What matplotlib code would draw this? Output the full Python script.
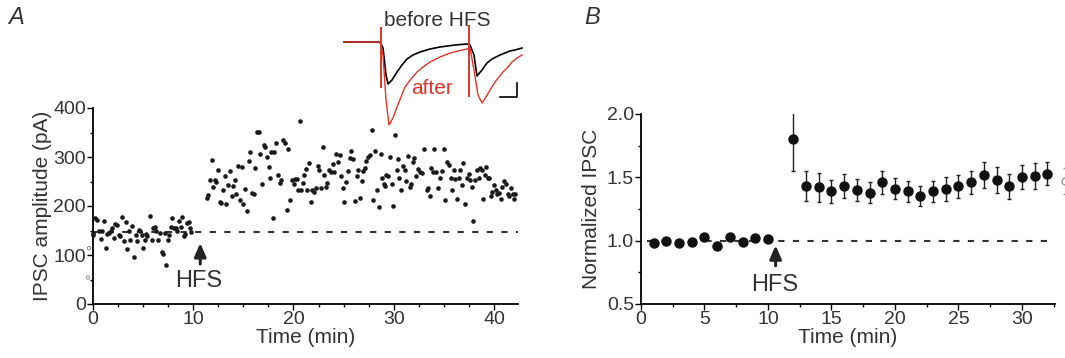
import matplotlib
matplotlib.use('Agg')
import matplotlib.pyplot as plt
from matplotlib.ticker import MultipleLocator

plt.rcParams['font.family'] = ['Liberation Sans', 'DejaVu Sans']

# --- panel A: single cell IPSC amplitude (pA) ---
pre_t = [0, 0.02, 0.2, 0.4, 0.6, 0.75, 0.9, 1.1, 1.25, 1.4, 1.55, 1.75, 1.9, 2.1, 2.2, 2.4,
         2.55, 2.7, 2.9, 3.1, 3.25, 3.4, 3.6, 3.7, 3.85, 4.1, 4.25, 4.4, 4.55, 4.7, 4.85, 5.0,
         5.15, 5.3, 5.4, 5.7, 5.85, 6.0, 6.15, 6.3, 6.5, 6.65, 6.85, 7.0, 7.15, 7.3, 7.45, 7.6,
         7.75, 7.9, 8.1, 8.25, 8.4, 8.6, 8.75, 8.9, 9.1, 9.2, 9.4, 9.55, 9.65, 9.8]
pre_amp = [145, 140, 175, 172, 150, 132, 150, 170, 115, 142, 145, 150, 155, 135, 163, 162,
           140, 138, 178, 128, 168, 112, 150, 130, 160, 95, 140, 128, 152, 148, 140, 115,
           130, 142, 138, 180, 130, 155, 157, 150, 130, 145, 107, 103, 145, 80, 130, 140,
           158, 175, 155, 155, 148, 170, 157, 178, 138, 142, 165, 167, 155, 146]

post_t = [11.34, 11.47, 11.64, 11.85, 12.0, 12.19, 12.3, 12.5, 12.63, 12.8, 13.0, 13.17, 13.3,
          13.45, 13.65, 13.82, 14.0, 14.13, 14.3, 14.47, 14.64, 14.84, 14.98, 15.15, 15.32,
          15.52, 15.69, 15.9, 16.07, 16.17, 16.34, 16.58, 16.68, 16.85, 17.02, 17.19, 17.36,
          17.53, 17.7, 17.8, 17.94, 18.1, 18.3, 18.49, 18.66, 18.8, 18.96, 19.17, 19.34, 19.47,
          19.64, 19.85, 20.02, 20.19, 20.32, 20.49, 20.63, 20.77, 20.94, 21.04, 21.2, 21.38,
          21.55, 21.79, 21.89, 22.06, 22.23, 22.4, 22.57, 22.74, 22.91, 23.08, 23.22, 23.39,
          23.56, 23.73, 23.9, 24.07, 24.24, 24.4, 24.6, 24.78, 24.92, 25.09, 25.26, 25.43,
          25.6, 25.77, 25.97, 26.14, 26.32, 26.45, 26.62, 26.79, 26.93, 27.1, 27.27, 27.44,
          27.64, 27.81, 27.98, 28.15, 28.32, 28.53, 28.7, 28.87, 29.0, 29.17, 29.28, 29.45,
          29.62, 29.79, 29.96, 30.13, 30.3, 30.43, 30.57, 30.74, 30.91, 31.08, 31.25, 31.42,
          31.59, 31.76, 31.9, 32.07, 32.24, 32.41, 32.58, 32.78, 33.02, 33.29, 33.46, 33.63,
          33.77, 33.91, 34.04, 34.25, 34.45, 34.66, 34.83, 35.0, 35.13, 35.34, 35.47, 35.68,
          35.81, 35.98, 36.15, 36.32, 36.49, 36.63, 36.8, 36.94, 37.15, 37.32, 37.49, 37.66,
          37.84, 37.94, 38.13, 38.3, 38.47, 38.64, 38.81, 38.91, 39.08, 39.2, 39.39, 39.52,
          39.69, 39.83, 40.0, 40.17, 40.34, 40.5, 40.68, 40.85, 41.02, 41.19, 41.36, 41.53,
          41.7, 41.87, 41.97, 42.1]
post_amp = [217, 222, 254, 294, 238, 254, 248, 274, 208, 206, 232, 261, 204,
            242, 271, 220, 240, 254, 225, 281, 212, 280, 204, 234, 190,
            291, 311, 227, 224, 277, 351, 351, 307, 244, 324, 321, 300,
            280, 257, 311, 175, 311, 328, 264, 246, 254, 335, 329, 192, 317,
            213, 254, 244, 256, 256, 233, 374, 233, 246, 263, 276, 233,
            288, 208, 233, 229, 236, 281, 274, 236, 321, 263, 239, 246,
            273, 269, 286, 269, 307, 290, 305, 261, 236, 208, 249, 271,
            298, 313, 296, 210, 261, 273, 217, 252, 271, 278, 292, 300,
            305, 355, 212, 312, 233, 197, 307, 258, 244, 240, 263, 261,
            300, 244, 200, 344, 274, 296, 258, 233, 281, 273, 252, 303,
            238, 244, 290, 298, 261, 276, 269, 267, 317, 232, 236, 220,
            278, 269, 317, 269, 236, 258, 271, 317, 212, 290, 283, 258,
            233, 274, 256, 215, 258, 274, 242, 288, 205, 258, 265, 254,
            239, 170, 254, 273, 258, 278, 273, 215, 263, 280, 258, 258,
            220, 229, 242, 232, 224, 227, 215, 238, 251, 244, 225, 220,
            236, 224, 215, 224]
baseline_amp = 147
stray_t = [-0.4, -0.5]
stray_amp = [114, 54]

# --- panel B: normalized IPSC, mean +/- SEM ---
norm_t = list(range(1, 11)) + list(range(12, 33))
norm_mean = [0.98, 1.00, 0.98, 0.99, 1.03, 0.96, 1.03, 0.99, 1.02, 1.01,
             1.80, 1.43, 1.42, 1.39, 1.43, 1.40, 1.38, 1.46, 1.41, 1.39, 1.35,
             1.39, 1.41, 1.43, 1.46, 1.52, 1.48, 1.43, 1.50, 1.51, 1.53]
norm_sem = [0.01, 0.01, 0.01, 0.01, 0.01, 0.01, 0.01, 0.01, 0.01, 0.01,
            0.25, 0.12, 0.115, 0.09, 0.096, 0.086, 0.08, 0.09, 0.084, 0.084, 0.08,
            0.085, 0.093, 0.092, 0.092, 0.105, 0.10, 0.10, 0.096, 0.10, 0.094]

# --- inset: example traces (arbitrary units) ---
before_t = [0, 36, 39, 42, 44, 48, 53, 58, 63, 69, 76, 86, 96, 111, 123, 126, 130, 133,
            138, 143, 148, 156, 161, 166, 171, 178]
before_i = [0, 0, -6, -33, -42, -38, -30, -23, -17, -13, -10, -7, -5, -3, -2, -3, -13, -34,
            -28, -21, -17, -13, -11, -9, -8, -6]
after_t = [0, 36, 39, 42, 45, 49, 53, 57, 61, 67, 73, 79, 86, 96, 106, 114, 123, 126, 130,
           134, 138, 142, 146, 151, 159, 164, 168, 173, 178]
after_i = [0, 0, -13, -58, -83, -76, -65, -55, -45, -37, -30, -25, -20, -15, -11, -9, -7,
           -6, -28, -53, -61, -55, -48, -40, -30, -25, -20, -16, -13]
stim_t = [37, 125]
stim_top = [15, 17]
stim_bottom = [-46, -55]

red = '#e0352c'
txt = '#333333'

fig = plt.figure(figsize=(10.65, 3.58), dpi=100)
W, H = 1065, 358

def box(x0, x1, ytop, ybot):
    return [x0 / W, 1 - ybot / H, (x1 - x0) / W, (ybot - ytop) / H]

def style(ax):
    for s in ['top', 'right']:
        ax.spines[s].set_visible(False)
    for s in ['left', 'bottom']:
        ax.spines[s].set_linewidth(1.3)
    ax.tick_params(which='major', direction='out', length=4, width=1, labelsize=14,
                   colors='black', labelcolor=txt, pad=1)
    ax.tick_params(which='minor', direction='out', length=2.5, width=1)

# panel A
axA = fig.add_axes(box(93, 518, 108, 304))
axA.axhline(baseline_amp, color=txt, lw=1.5, ls=(0, (3, 4)), zorder=1)
axA.scatter(pre_t, pre_amp, s=11, color='#1a1a1a', clip_on=False, zorder=3, linewidths=0)
axA.scatter(post_t, post_amp, s=11, color='#1a1a1a', clip_on=False, zorder=3, linewidths=0)
axA.scatter(stray_t, stray_amp, s=6, facecolors='none', edgecolors='#777777',
            linewidths=0.6, clip_on=False)
axA.set_xlim(0, 42.4)
axA.set_ylim(0, 400)
axA.xaxis.set_major_locator(MultipleLocator(10))
axA.xaxis.set_minor_locator(MultipleLocator(2.5))
axA.yaxis.set_major_locator(MultipleLocator(100))
axA.yaxis.set_minor_locator(MultipleLocator(50))
style(axA)
axA.set_xlabel('Time (min)', fontsize=15, color=txt, labelpad=0)
axA.set_ylabel('IPSC amplitude (pA)', fontsize=15, color=txt, labelpad=1)
axA.annotate('', xy=(10.7, 130), xytext=(10.7, 76),
             arrowprops=dict(arrowstyle='-|>,head_width=0.35,head_length=0.8',
                             color='#222222', lw=2.2))
axA.text(10.55, 46, 'HFS', fontsize=17, color=txt, ha='center', va='center')

# panel B
axB = fig.add_axes(box(641, 1055, 114, 304))
axB.plot([0.5, 32.5], [1.0, 1.0], color=txt, lw=1.5, ls=(0, (3, 4)), zorder=1)
axB.errorbar(norm_t, norm_mean, yerr=norm_sem, fmt='o', ms=6.5, color='#111111',
             ecolor='#222222', elinewidth=1, capsize=1.5, capthick=1, zorder=3)
axB.errorbar([33.4], [1.47], yerr=[0.1], fmt='o', ms=5, mfc='white', mec='#999999',
             ecolor='#999999', elinewidth=0.8, capsize=1.5, clip_on=False)
axB.set_xlim(0, 32.6)
axB.set_ylim(0.5, 2.0)
axB.xaxis.set_major_locator(MultipleLocator(5))
axB.xaxis.set_minor_locator(MultipleLocator(2.5))
axB.yaxis.set_major_locator(MultipleLocator(0.5))
axB.yaxis.set_minor_locator(MultipleLocator(0.25))
axB.yaxis.set_major_formatter(plt.FormatStrFormatter('%.1f'))
style(axB)
axB.set_xlabel('Time (min)', fontsize=15, color=txt, labelpad=0)
axB.set_ylabel('Normalized IPSC', fontsize=15, color=txt, labelpad=4)
axB.annotate('', xy=(10.6, 0.985), xytext=(10.6, 0.78),
             arrowprops=dict(arrowstyle='-|>,head_width=0.35,head_length=0.8',
                             color='#222222', lw=2.2))
axB.text(10.5, 0.65, 'HFS', fontsize=17, color=txt, ha='center', va='center')

# inset traces
axI = fig.add_axes(box(340, 530, 0, 135))
axI.plot(before_t, before_i, color='black', lw=1.2)
axI.plot(after_t, after_i, color=red, lw=1.0)
axI.vlines(stim_t, stim_bottom, stim_top, color=red, lw=1.4)
axI.plot([156, 173, 173], [-55, -55, -41], color='black', lw=1.2)
axI.text(93, 22, 'before HFS', fontsize=15, color=txt, ha='center', va='center')
axI.text(88, -46, 'after', fontsize=15, color=red, ha='center', va='center')
axI.set_xlim(-4, 186)
axI.set_ylim(-93, 42)
axI.axis('off')

fig.text(8 / W, 1 - 18 / H, 'A', fontsize=17, style='italic', color=txt, va='center')
fig.text(584 / W, 1 - 18 / H, 'B', fontsize=17, style='italic', color=txt, va='center')

fig.savefig('out.png', dpi=100)
